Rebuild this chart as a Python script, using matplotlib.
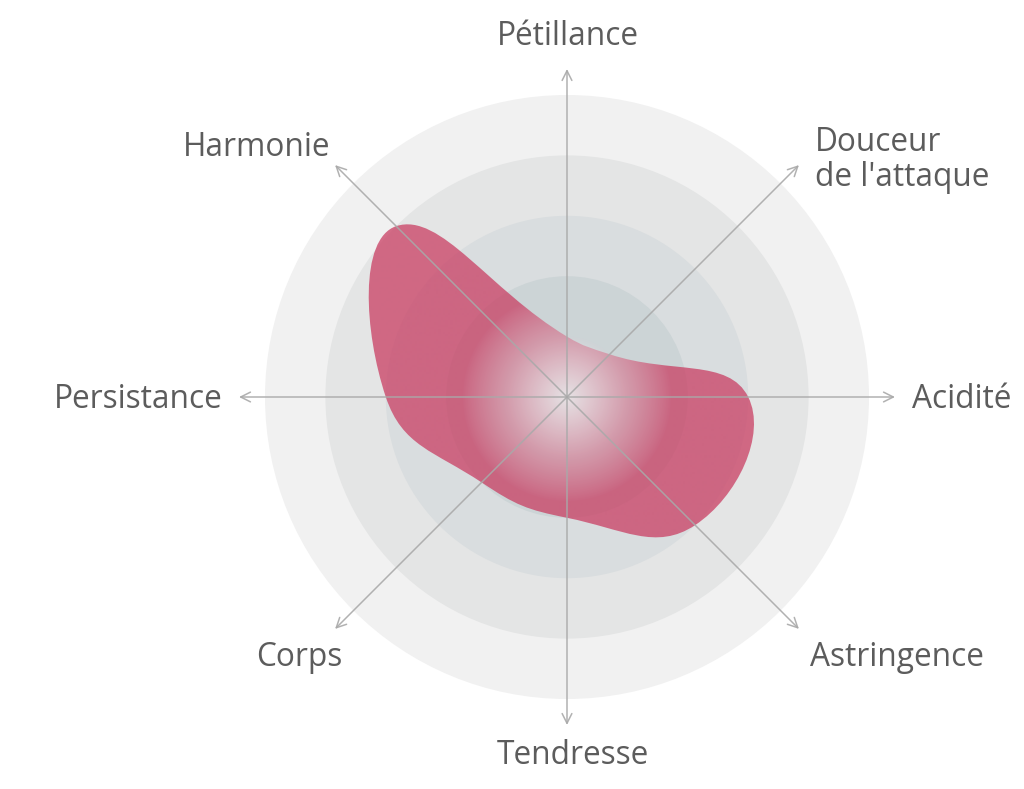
import numpy as np
import matplotlib
matplotlib.use('Agg')
import matplotlib.pyplot as plt
from matplotlib.path import Path
from matplotlib.patches import PathPatch, Circle

# =============================================================================
# Wine tasting radar
# =============================================================================
CATEGORIES = ['Pétillance', "Douceur\nde l'attaque", 'Acidité', 'Astringence',
              'Tendresse', 'Corps', 'Persistance', 'Harmonie']
VALUES = [1, 1, 3, 3, 2, 2, 3, 4]
LEVELS = [5, 4, 3, 2]

RING_COLORS = ['#f1f1f1', '#e4e5e5', '#d9dddf', '#ccd4d6']
FILL_RGB = np.array([201, 60, 97]) / 255
GLOW_RGB = np.array([228, 222, 225]) / 255
AXIS_COLOR = '#a9a9a9'
TEXT_COLOR = '#5c5c5c'

CX, CY = 567, 397
STEP = 60.4
AXIS_LEN = 328
TENSION = 0.45

plt.rcParams['font.family'] = ['Open Sans', 'DejaVu Sans']

fig = plt.figure(figsize=(10.24, 7.89), dpi=100)
ax = fig.add_axes([0, 0, 1, 1])
ax.set_xlim(0, 1024)
ax.set_ylim(789, 0)
ax.set_aspect('equal')
ax.axis('off')

n = len(CATEGORIES)
angles = np.pi / 2 - np.arange(n) * 2 * np.pi / n


def to_xy(r, a):
    return CX + r * np.cos(a), CY - r * np.sin(a)


def radial(R):
    yy, xx = np.mgrid[-R:R + 1, -R:R + 1]
    return np.sqrt(xx ** 2 + yy ** 2)


# rings
for lvl, col in zip(LEVELS, RING_COLORS):
    ax.add_patch(Circle((CX, CY), lvl * STEP, facecolor=col, edgecolor='none',
                        zorder=1))

# inner disc with white glow
R1 = int(STEP) + 1
d = radial(R1) / STEP
disc = np.ones((2 * R1 + 1, 2 * R1 + 1, 4))
shade = np.clip(d, 0, 1) ** 1.3
disc[..., 0] = (236 - 30 * shade) / 255
disc[..., 1] = (236 - 25 * shade) / 255
disc[..., 2] = (238 - 24 * shade) / 255
im = ax.imshow(disc, extent=(CX - R1, CX + R1, CY + R1, CY - R1), zorder=1.5,
               interpolation='bilinear')
im.set_clip_path(Circle((CX, CY), STEP, transform=ax.transData))

# smooth closed shape (tension spline -> cubic bezier)
pts = np.array([to_xy(v * STEP, a) for v, a in zip(VALUES, angles)])
ctrl_in, ctrl_out = [], []
for i in range(n):
    prev, cur, nxt = pts[i - 1], pts[i], pts[(i + 1) % n]
    d01 = np.linalg.norm(cur - prev)
    d12 = np.linalg.norm(nxt - cur)
    ctrl_in.append(cur - TENSION * d01 / (d01 + d12) * (nxt - prev))
    ctrl_out.append(cur + TENSION * d12 / (d01 + d12) * (nxt - prev))
verts = [pts[0]]
codes = [Path.MOVETO]
for i in range(n):
    j = (i + 1) % n
    verts += [ctrl_out[i], ctrl_in[j], pts[j]]
    codes += [Path.CURVE4] * 3
shape = PathPatch(Path(verts, codes), facecolor='none', edgecolor='none')
ax.add_patch(shape)

# shape fill turns pale toward the centre
R2 = int(5 * STEP) + 2
d = radial(R2)
w = np.clip(1 - d / 105, 0, 1) ** 0.9
fill = np.zeros((2 * R2 + 1, 2 * R2 + 1, 4))
fill[..., :3] = FILL_RGB * (1 - w[..., None]) + GLOW_RGB * w[..., None]
fill[..., 3] = 0.74
im = ax.imshow(fill, extent=(CX - R2, CX + R2, CY + R2, CY - R2), zorder=2,
               interpolation='bilinear')
im.set_clip_path(shape)

# axes with open arrowheads
for a in angles:
    x1, y1 = to_xy(AXIS_LEN, a)
    ax.annotate('', xy=(x1, y1), xytext=(CX, CY),
                arrowprops=dict(arrowstyle='->,head_length=0.7,head_width=0.35',
                                color=AXIS_COLOR, lw=1.1, shrinkA=0, shrinkB=0,
                                alpha=0.9),
                zorder=4)

# labels
LABEL_POS = [
    (568, 36, 'center'),
    (815, 160, 'left'),
    (912, 399, 'left'),
    (810, 658, 'left'),
    (573, 755, 'center'),
    (342, 658, 'right'),
    (223, 399, 'right'),
    (330, 147, 'right'),
]
for lab, (x, y, ha) in zip(CATEGORIES, LABEL_POS):
    ax.text(x, y, lab, ha=ha, va='center', fontsize=22.8, color=TEXT_COLOR,
            linespacing=1.08, zorder=5)

fig.savefig('out.png', dpi=100)
